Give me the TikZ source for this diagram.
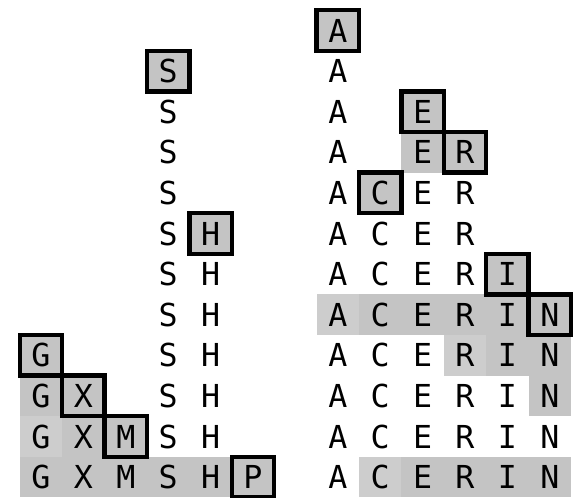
\documentclass[tikz,border=0pt]{standalone}
\usepackage{fontspec}
\newfontfamily\gridfont{DejaVu Sans Mono}
\definecolor{cellgray}{HTML}{C4C4C4}
\definecolor{palegray}{HTML}{CDCDCD}

\begin{document}
\begin{tikzpicture}[x=0.848cm, y=-0.812cm,
    plain/.style={minimum width=0.848cm, minimum height=0.812cm, inner sep=0pt,
      font=\gridfont\fontsize{18}{18}\selectfont},
    grey/.style={plain, fill=cellgray},
    pale/.style={plain, fill=palegray},
    pick/.style={grey, draw=black, line width=0.085cm}]
  \useasboundingbox (-0.967, 0.249) rectangle (12.547, 12.515);

  % left panel: G X M S H P in columns 0..5
  \foreach \r in {3,...,11} \node[plain] (s\r) at (3, \r) {S};
  \foreach \r in {7,...,11} \node[plain] (h\r) at (4, \r) {H};
  \foreach \c/\r/\l in {0/10/G, 1/11/X, 0/12/G, 1/12/X, 2/12/M, 3/12/S, 4/12/H}
    \node[grey] (n\c-\r) at (\c, \r) {\l};
  \node[pale] (n0-11) at (0, 11) {G};

  % right panel: A C E R I N in columns 7..12
  \foreach \r in {2,...,7,9,10,11,12} \node[plain] (a\r) at (7, \r) {A};
  \foreach \c/\r/\l in {9/5/E, 10/5/R,
      8/6/C, 9/6/E, 10/6/R,
      8/7/C, 9/7/E, 10/7/R,
      8/9/C, 9/9/E,
      8/10/C, 9/10/E, 10/10/R, 11/10/I,
      8/11/C, 9/11/E, 10/11/R, 11/11/I, 12/11/N}
    \node[plain] (n\c-\r) at (\c, \r) {\l};
  \foreach \c/\r/\l in {9/4/E,
      8/8/C, 9/8/E, 10/8/R, 11/8/I,
      11/9/I, 12/9/N,
      12/10/N,
      9/12/E, 10/12/R, 11/12/I, 12/12/N}
    \node[grey] (n\c-\r) at (\c, \r) {\l};
  \foreach \c/\r/\l in {7/8/A, 10/9/R, 8/12/C}
    \node[pale] (n\c-\r) at (\c, \r) {\l};

  % outlined cells last, so the frames sit on top
  \foreach \c/\r/\l in {3/2/S, 4/6/H, 0/9/G, 1/10/X, 2/11/M, 5/12/P,
      7/1/A, 9/3/E, 10/4/R, 8/5/C, 11/7/I, 12/8/N}
    \node[pick] (n\c-\r) at (\c, \r) {\l};
\end{tikzpicture}
\end{document}
